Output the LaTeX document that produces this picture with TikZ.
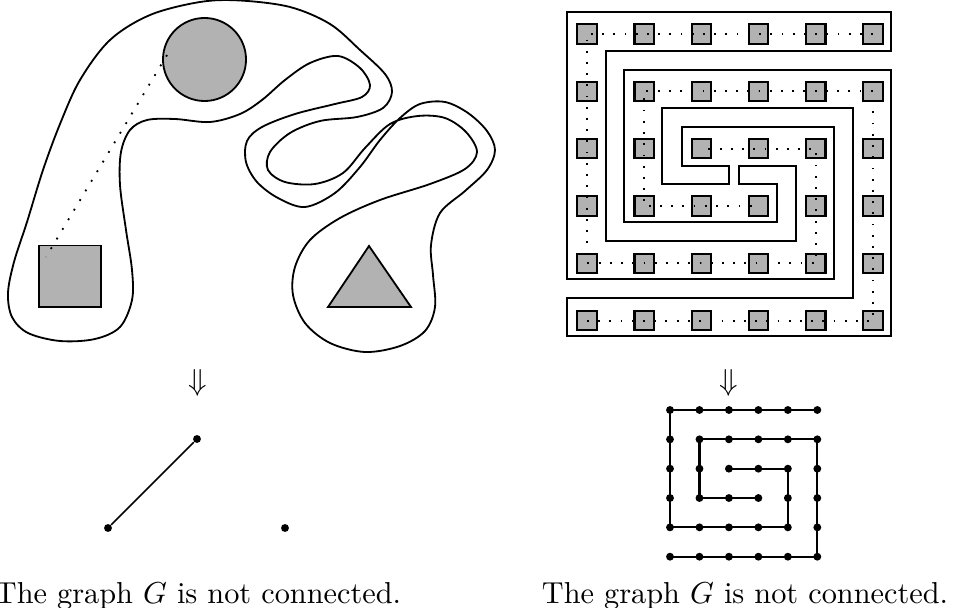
\documentclass[tikz,border=0pt]{standalone}
\usetikzlibrary{shapes.geometric}
\begin{document}
\begin{tikzpicture}[x=0.33pt,y=-0.33pt,
  wall/.style={line width=0.6pt, line join=miter},
  blob/.style={line width=0.6pt},
  shapefill/.style={draw, line width=0.6pt, fill=black!30, inner sep=0pt},
  sqbox/.style={draw, line width=0.7pt, fill=black!30, minimum size=6.4pt, inner sep=0pt},
  dotline/.style={line width=0.6pt, dash pattern=on 0.6pt off 3.1pt},
  vtx/.style={circle, fill=black, inner sep=0pt, minimum size=2.6pt},
  gedge/.style={line width=0.7pt},
  captext/.style={anchor=base, inner sep=0pt}]
\useasboundingbox (0,0) rectangle (957,608);

% ---------- left: closed curve ----------
\draw[blob] plot[smooth cycle, tension=0.55] coordinates {
(200,2) (240,0.5) (290,7) (330,24) (360,50) (385,74) (392,92) (383,108) (357,117) (320,121) (290,133) (270,152) (268,170) (285,182) (315,184) (343,173) (365,148) (390,124) (418,116) (445,118) (466,132) (477,152) (465,169) (430,184) (380,200) (340,218) (310,240) (295,267) (293,295) (305,323) (330,343) (365,352) (400,346) (425,331) (435,307) (433,275) (431,245) (440,213) (465,191) (487,170) (495,150) (487,131) (468,113) (445,102) (420,104) (400,118) (380,140) (360,167) (335,193) (305,207) (278,198) (257,182) (246,162) (247,141) (262,127) (295,114) (335,104) (362,97) (370,85) (360,68) (338,56) (310,63) (285,80) (262,100) (240,114) (210,122) (175,119) (147,120) (130,130) (121,152) (120,185) (126,230) (132,270) (132,300) (120,327) (95,339) (60,341) (28,333) (12,317) (8,293) (14,262) (27,222) (43,170) (60,124) (80,80) (110,40) (150,15)};

\node[shapefill, circle, minimum size=27.4pt] (circ) at (204.5,59.5) {};
\node[shapefill, minimum size=20.4pt] (sqr) at (70,276.5) {};
\coordinate (t1) at (369,246);
\coordinate (t2) at (411,307);
\coordinate (t3) at (328,307);
\draw[line width=0.6pt, fill=black!30, line join=miter] (t1) -- (t2) -- (t3) -- cycle;
\coordinate (d1) at (167,55);
\coordinate (d2) at (46,257);
\draw[dotline] (d1) -- (d2);

% ---------- left: graph ----------
\node (arL) at (198,383) {$\Downarrow$};
\node[vtx] (a) at (197,439) {};
\node[vtx] (b) at (108,528) {};
\node[vtx] (c) at (285,528) {};
\draw[line width=0.5pt] (a) -- (b);
\node[captext] (capL) at (198,603) {The graph $G$ is not connected.};

% ---------- right: spiral walls ----------
\draw[wall] (567.3,12.3) -- (891,12.3) -- (891,50.7) -- (605.7,50.7) -- (605.7,240.7)
  -- (795.7,240.7) -- (795.7,165.7) -- (739,165.7) -- (739,184) -- (776.7,184)
  -- (776.7,222.3) -- (624,222.3) -- (624,70) -- (891,70) -- (891,336)
  -- (567.3,336) -- (567.3,298) -- (852.7,298) -- (852.7,107.7) -- (662.3,107.7)
  -- (662.3,184) -- (729,184) -- (729,165.7) -- (681.7,165.7) -- (681.7,126.7)
  -- (834,126.7) -- (834,279.3) -- (567.3,279.3) -- cycle;

\foreach \c in {0,...,5}
  \foreach \r in {0,...,5}
    \node[sqbox] (s\c\r) at ({587+57.2*\c},{34+57.32*\r}) {};

\draw[dotline] (s50.center) -- (s40.center) -- (s30.center) -- (s20.center) -- (s10.center) -- (s00.center)
  -- (s01.center) -- (s02.center) -- (s03.center) -- (s04.center) -- (s14.center) -- (s24.center)
  -- (s34.center) -- (s44.center) -- (s43.center) -- (s42.center) -- (s32.center) -- (s22.center);
\draw[dotline] (s05.center) -- (s15.center) -- (s25.center) -- (s35.center) -- (s45.center) -- (s55.center)
  -- (s54.center) -- (s53.center) -- (s52.center) -- (s51.center) -- (s41.center) -- (s31.center)
  -- (s21.center) -- (s11.center) -- (s12.center) -- (s13.center) -- (s23.center) -- (s33.center);

% ---------- right: graph ----------
\node (arR) at (729,383) {$\Downarrow$};
\foreach \c in {0,...,5}
  \foreach \r in {0,...,5}
    \node[vtx] (g\c\r) at ({670+29.46*\c},{410+29.34*\r}) {};
\draw[gedge, line join=miter] (g50.center) -- (g40.center) -- (g30.center) -- (g20.center) -- (g10.center) -- (g00.center)
  -- (g01.center) -- (g02.center) -- (g03.center) -- (g04.center) -- (g14.center) -- (g24.center)
  -- (g34.center) -- (g44.center) -- (g43.center) -- (g42.center) -- (g32.center) -- (g22.center);
\draw[gedge, line join=miter] (g05.center) -- (g15.center) -- (g25.center) -- (g35.center) -- (g45.center) -- (g55.center)
  -- (g54.center) -- (g53.center) -- (g52.center) -- (g51.center) -- (g41.center) -- (g31.center)
  -- (g21.center) -- (g11.center) -- (g12.center) -- (g13.center) -- (g23.center) -- (g33.center);
\node[captext] (capR) at (745,603) {The graph $G$ is not connected.};
\end{tikzpicture}
\end{document}
